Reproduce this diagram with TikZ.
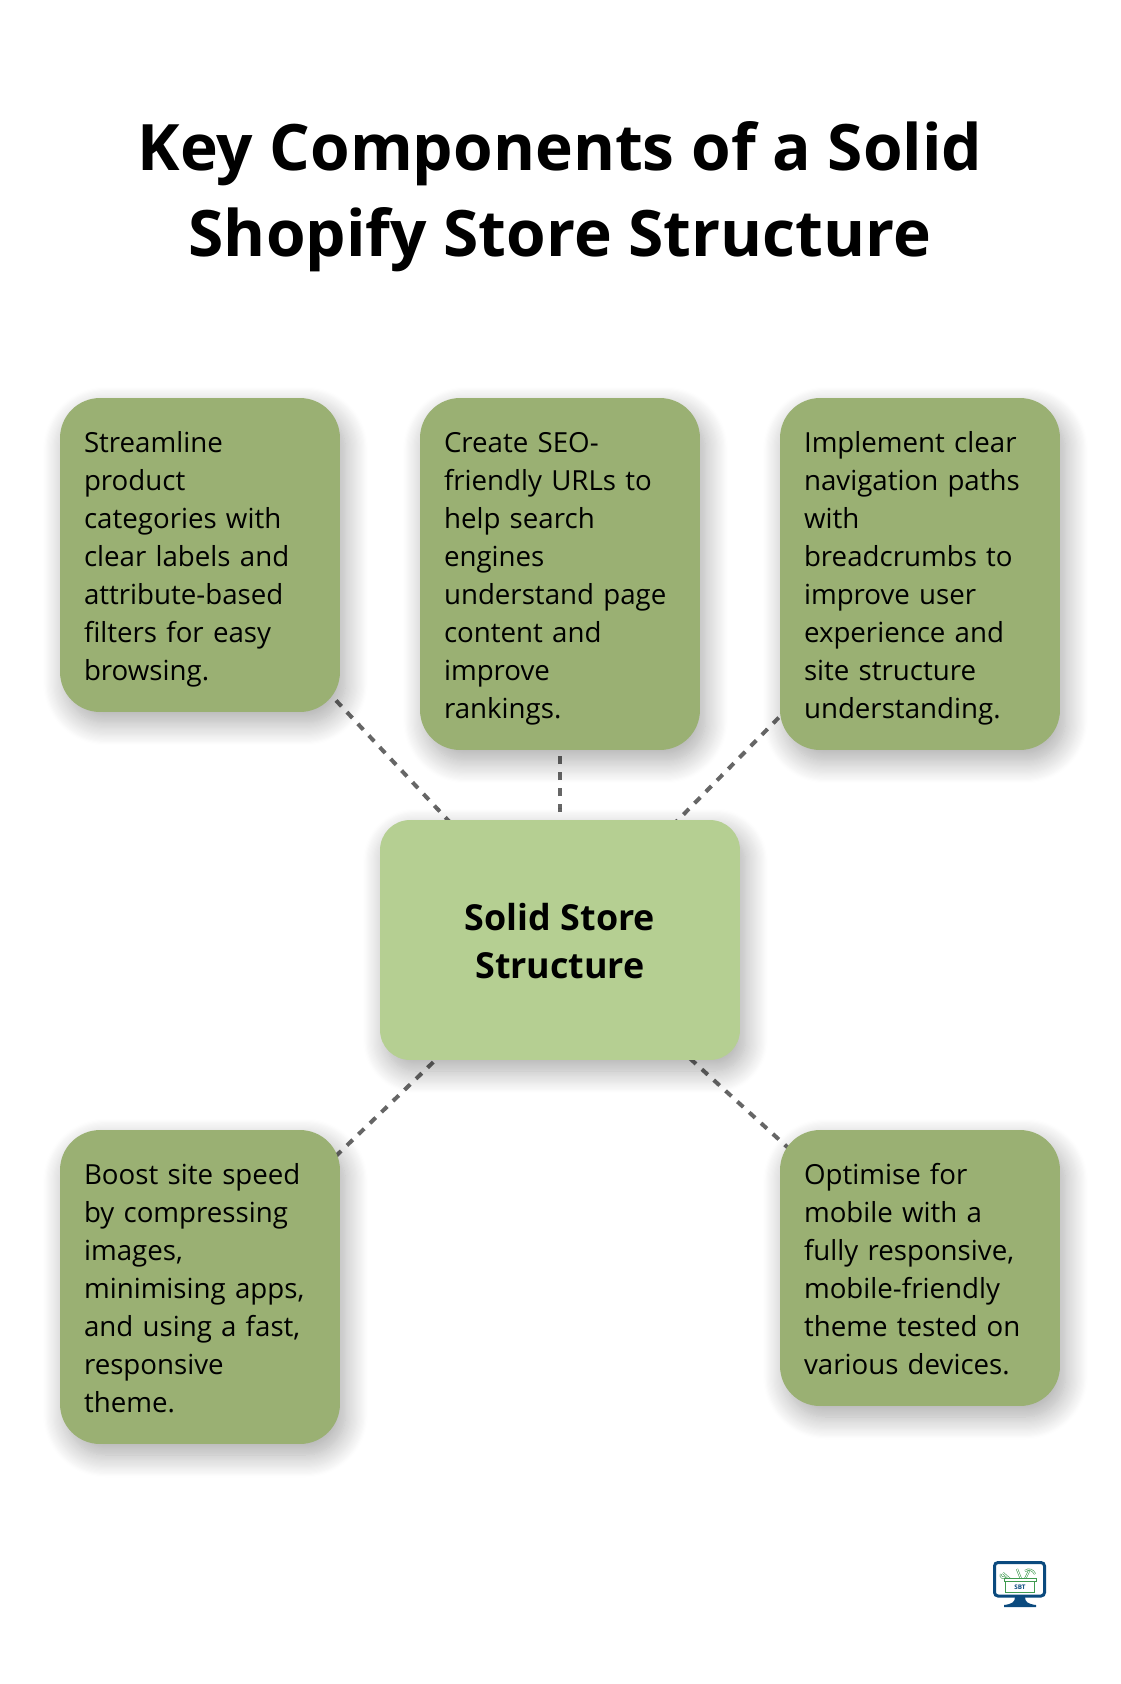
\documentclass[tikz,border=0pt]{standalone}
\usepackage{fontspec}
\setmainfont{Open Sans}
\usepackage{tikz}
\usetikzlibrary{shadows.blur}
\definecolor{leafgreen}{HTML}{9AB073}
\definecolor{hubgreen}{HTML}{B5CF92}
\definecolor{linkgray}{HTML}{666666}
\definecolor{logoblue}{HTML}{0B4A7E}
\definecolor{logogreen}{HTML}{3F9A4F}
\pgfdeclarelayer{back}
\pgfsetlayers{back,main}
\newcommand{\linestrut}{\rule[-0.195\baselineskip]{0pt}{\baselineskip}}

\begin{document}
\begin{tikzpicture}[x=0.02cm,y=-0.02cm]
% Styles
   \tikzstyle{softshadow} = [blur shadow={shadow blur steps=20, shadow blur radius=0.45cm, shadow xshift=0.11cm, shadow yshift=-0.22cm, shadow opacity=34}]
   \tikzstyle{leaf} = [shape=rectangle, fill=leafgreen, rounded corners=0.8cm, minimum width=5.6cm, text width=4.64cm, inner sep=0.48cm, inner ysep=0cm, align=left, softshadow, font=\fontsize{15.75}{21.6}\selectfont]
   \tikzstyle{hub} = [shape=rectangle, fill=hubgreen, rounded corners=0.6cm, minimum width=7.2cm, minimum height=4.8cm, align=center, softshadow, font=\fontsize{20.4}{27.2}\selectfont\bfseries]
   \tikzstyle{link} = [linkgray, line width=0.08cm, dash pattern=on 0.16cm off 0.16cm]
   \tikzstyle{tool} = [logogreen, line width=0.012cm, double=white, double distance=0.018cm]

\useasboundingbox (0,0) rectangle (1120,1684);

\node at (560,197) [align=center, font=\fontsize{36.45}{48.76}\selectfont\bfseries] (title) {Key Components of a Solid\\Shopify Store Structure};

% Outer boxes
\node at (200,555) [leaf, minimum height=6.28cm] (categories) {\linestrut Streamline\\product\\categories with\\clear labels and\\attribute-based\\filters for easy\\browsing.\linestrut};
\node at (560,574) [leaf, minimum height=7.04cm] (urls) {\linestrut Create SEO-\\friendly URLs to\\help search\\engines\\understand page\\content and\\improve\\rankings.\linestrut};
\node at (920,574) [leaf, minimum height=7.04cm] (paths) {\linestrut Implement clear\\navigation paths\\with\\breadcrumbs to\\improve user\\experience and\\site structure\\understanding.\linestrut};
\node at (200,1287) [leaf, minimum height=6.28cm] (speed) {\linestrut Boost site speed\\by compressing\\images,\\minimising apps,\\and using a fast,\\responsive\\theme.\linestrut};
\node at (920,1268) [leaf, minimum height=5.52cm] (mobile) {\linestrut Optimise for\\mobile with a\\fully responsive,\\mobile-friendly\\theme tested on\\various devices.\linestrut};

\node at (560,940) [hub] (store) {\linestrut Solid Store\\Structure\linestrut};

% Links run behind the boxes
\begin{pgfonlayer}{back}
\foreach \leafname in {categories,urls,paths,speed,mobile}
    \draw[link] (store.center) -- (\leafname.center);
\end{pgfonlayer}

% Logo
\draw[logoblue, line width=0.06cm, fill=white, rounded corners=0.07cm] (994.5,1562.5) rectangle (1044.5,1596);
\fill[logoblue] (1015,1597) -- (1025,1597) .. controls (1025,1602) and (1028,1604) .. (1036,1605) -- (1036,1607) -- (1004,1607) -- (1004,1605) .. controls (1012,1604) and (1015,1602) .. (1015,1597) -- cycle;
\draw[tool] (1003,1573) -- (1011,1580);
\draw[tool] (1001,1574) arc[start angle=210, end angle=30, radius=2.5];
\draw[tool] (1017,1569) -- (1021,1579);
\draw[tool] (1029,1571) -- (1025,1579);
\draw[tool] (1025,1571) .. controls (1029,1568) and (1033,1570) .. (1035,1574);
\draw[logogreen, line width=0.012cm, fill=white] (1005.5,1581) rectangle (1034.5,1592);
\draw[logogreen, line width=0.012cm, fill=white] (1004,1578.5) -- (1036,1578.5) -- (1036,1581) -- (1004,1581) -- cycle;
\node at (1020,1587) [logoblue, inner sep=0pt, font=\fontsize{3.6}{4}\selectfont\bfseries] (logotext) {SBT};
\end{tikzpicture}
\end{document}
